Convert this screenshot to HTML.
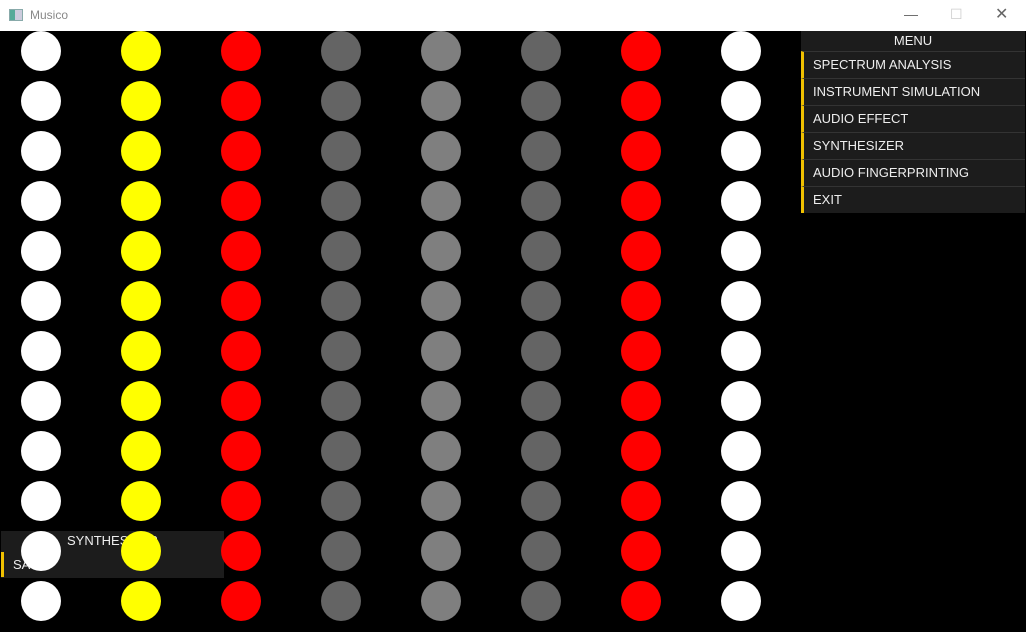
<!DOCTYPE html>
<html><head><meta charset="utf-8"><style>
html,body{margin:0;padding:0;width:1026px;height:632px;overflow:hidden;background:#000;font-family:"Liberation Sans",sans-serif}
#title{position:absolute;left:0;top:0;width:1026px;height:31px;background:#fff}
#title .t{position:absolute;left:30px;top:8px;font-size:12px;color:#888}
#icon{position:absolute;left:9px;top:9px;width:12px;height:10px;border:1px solid #8aa;background:linear-gradient(90deg,#5a9 0 40%,#ccd 40%)}
.ctl{position:absolute;top:6px;color:#666;font-size:14px}
#menu{position:absolute;left:801px;top:31px;width:224px;height:182px;background:#1c1c1c}
.mh{height:20px;line-height:19px;text-align:center;color:#eee;font-size:13px}
.mi{height:26px;border-top:1px solid #333;border-left:3px solid #f0c000;color:#eee;font-size:13px;line-height:26px;padding-left:9px}
#bp{position:absolute;left:1px;top:531px;width:223px;height:47px;background:#1c1c1c}
svg{position:absolute;left:0;top:0}
</style></head><body>
<div id="title"><div id="icon"></div><span class="t">Musico</span>
<span class="ctl" style="left:904px">—</span>
<span class="ctl" style="left:950px;color:#ccc">☐</span>
<span class="ctl" style="left:995px;font-size:16px;top:4px">✕</span></div>
<div id="bp">
<div style="position:absolute;left:66px;top:2px;width:90px;overflow:hidden;white-space:nowrap;color:#eee;font-size:13px">SYNTHESIZER</div>
<div style="position:absolute;left:0;top:21px;width:220px;height:25px;border-left:3px solid #f0c000;color:#eee;font-size:13px;line-height:25px;padding-left:9px;box-sizing:border-box">SAW</div>
</div>
<svg id="grid" width="1026" height="632"></svg>
<div id="menu">
<div class="mh">MENU</div>
<div class="mi">SPECTRUM ANALYSIS</div>
<div class="mi">INSTRUMENT SIMULATION</div>
<div class="mi">AUDIO EFFECT</div>
<div class="mi">SYNTHESIZER</div>
<div class="mi">AUDIO FINGERPRINTING</div>
<div class="mi">EXIT</div>
</div>
<script>
const columnColors=["#ffffff","#ffff00","#ff0000","#646464","#7f7f7f","#646464","#ff0000","#ffffff"];
const rowCount=12;
const svg=document.getElementById('grid');
for(let c=0;c<columnColors.length;c++){for(let r=0;r<rowCount;r++){
const e=document.createElementNS('http://www.w3.org/2000/svg','circle');
e.setAttribute('cx',41+c*100);e.setAttribute('cy',51+r*50);e.setAttribute('r',20);e.setAttribute('fill',columnColors[c]);


svg.appendChild(e);}}
</script>
</body></html>
